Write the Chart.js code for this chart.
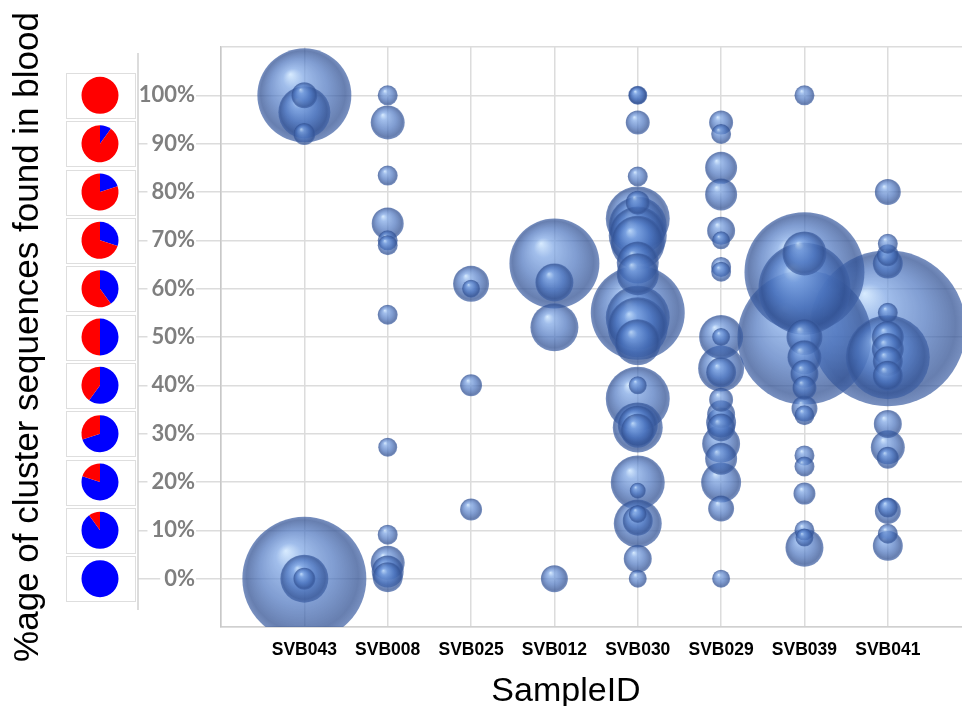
<!DOCTYPE html>
<html>
<head>
<meta charset="utf-8">
<script src="https://cdn.jsdelivr.net/npm/chart.js@4/dist/chart.umd.min.js"></script>
<style>
  html,body{margin:0;padding:0;background:#fff;overflow:hidden}
  #wrap{width:962px;height:706px;position:relative}
</style>
</head>
<body>
<div id="wrap"><canvas id="chart" width="962" height="706"></canvas></div>
<script>
/* ── Data ── */
const samples=['SVB043','SVB008','SVB025','SVB012','SVB030','SVB029','SVB039','SVB041'];

// % of cluster sequences found in blood, one list per sample
const bloodPct=[
  [100,96.5,100,92, 0,0,0],
  [100,94.4,83.4,73.5,70,69,54.6,27.2,9.1,3.3,1.5,0.3],
  [61,60,40,14.3],
  [65.2,61.3,52,0],
  [100,100,94.4,83.2,77.8,74.5,73,71,69.5,65.4,63,55,54,52,48.9,40,37.2,31.7,31.3,30.6,19.9,18.2,13.4,12,11.4,4.1,0],
  [94.4,92,85,79.5,72,70,64.5,63.5,50,50,43.5,42.7,37,34,32.3,31.3,27.9,24.8,19.9,14.5,0],
  [100,63.4,60,67.3,49.9,50,45.8,42.4,39.5,35.2,33.8,25.5,23.2,17.6,10,8.5,6.4],
  [80,69.3,66.9,65.2,51.8,45.8,55,50,47.5,45,42,32,27.2,25,14.7,14,9.3,6.8]
];
// bubble size (cluster size), same order as bloodPct
const clusterSize=[
  [47,26,13,11, 62,24,11],
  [10,17,10,16,10,10,10,9.5,10,17,16,15],
  [18,9,11,11],
  [45,19,24,13.5],
  [9.5,9,12,10,12,32,29,29,27,21,21,47,32,30,23,9,32,20,25,17,27,8,9,15,24,14,9],
  [12,10,16,16,14,9,10,10,22,9,23,15,12,14,15,14,19,16,20,13,9],
  [10,60,46,22,67,18,17,14,12,13,10,10,10,11,10,9,19],
  [13,10,11,15,78,42,10,16,16,15,15,14,17,11,10,13,10,15]
];

// pie key: share of red (blood) for each level
const pieRedPct=[100,90,80,70,60,50,40,30,20,10,0];
const yTicks=[-10,0,10,20,30,40,50,60,70,80,90,100,110];

const yTitle='%age of cluster sequences found in blood';
const xTitle='SampleID';

/* ── Build points ── */
const points=[];
samples.forEach((s,i)=>{
  bloodPct[i].forEach((p,j)=>points.push({x:i+1,y:p,r:clusterSize[i][j]}));
});
points.sort((a,b)=>b.r-a.r);

/* ── 3D-ish bubble fill ── */
function bubbleFill(ctx){
  const chart=ctx.chart,raw=ctx.raw;
  const flat='rgba(68,114,196,.7)';
  if(!raw||!chart.scales||!chart.scales.x||!chart.scales.y)return flat;
  const x=chart.scales.x.getPixelForValue(raw.x);
  const y=chart.scales.y.getPixelForValue(raw.y);
  const r=raw.r;
  if(!isFinite(x)||!isFinite(y)||!isFinite(r))return flat;
  const g=chart.ctx.createRadialGradient(x-0.3*r,y-0.45*r,0,x,y,r);
  g.addColorStop(0,'rgba(205,230,255,.78)');
  g.addColorStop(0.22,'rgba(125,165,228,.72)');
  g.addColorStop(0.6,'rgba(74,115,190,.7)');
  g.addColorStop(0.9,'rgba(50,82,148,.74)');
  g.addColorStop(1,'rgba(62,96,165,.7)');
  return g;
}

/* ── Pie key, frame line, x title ── */
const extras={
  id:'extras',
  afterDraw(chart){
    const c=chart.ctx,ys=chart.scales.y;
    c.save();
    pieRedPct.forEach(p=>{
      const cy=ys.getPixelForValue(p);
      c.strokeStyle='#dedede';c.lineWidth=1;
      c.strokeRect(66.5,Math.round(cy-22.5)+0.5,69,45);
      const cx=100,r=18.5,start=-Math.PI/2,blueEnd=start+2*Math.PI*(100-p)/100;
      if(p<100){
        c.beginPath();c.moveTo(cx,cy);c.arc(cx,cy,r,start,blueEnd);c.closePath();
        c.fillStyle='#0000ff';c.fill();
      }
      if(p>0){
        c.beginPath();c.moveTo(cx,cy);c.arc(cx,cy,r,blueEnd,start+2*Math.PI);c.closePath();
        c.fillStyle='#ff0000';c.fill();
      }
    });
    c.strokeStyle='#d0d0d0';c.lineWidth=1.5;
    c.beginPath();c.moveTo(138,53);c.lineTo(138,610);c.stroke();
    c.font='34px "Liberation Sans", Arial, sans-serif';
    c.fillStyle='#000';c.textAlign='center';c.textBaseline='alphabetic';
    c.fillText(xTitle,566,701);
    c.restore();
  }
};

const inRange=v=>v>=0&&v<=100;

new Chart(document.getElementById('chart'),{
  type:'bubble',
  data:{datasets:[{
    data:points,
    backgroundColor:bubbleFill,
    borderWidth:0,
    clip:0
  }]},
  options:{
    responsive:false,
    animation:false,
    events:[],
    layout:{autoPadding:false,padding:{top:47,left:0,right:0,bottom:0}},
    plugins:{legend:{display:false},tooltip:{enabled:false}},
    scales:{
      x:{
        type:'linear',min:0,max:8.89,
        afterBuildTicks:s=>{s.ticks=samples.map((_,i)=>({value:i})).concat([{value:samples.length}]);},
        afterFit:s=>{s.height=79;s.paddingLeft=0;s.paddingRight=0;},
        grid:{color:'#dcdcdc',lineWidth:1.5,drawTicks:false},
        border:{display:true,color:'#d0d0d0',width:1.5},
        ticks:{
          autoSkip:false,maxRotation:0,padding:13,color:'#000',
          font:{family:'"Liberation Sans", Arial, sans-serif',weight:'bold',size:17.5},
          callback:v=>samples[v-1]||''
        }
      },
      y:{
        type:'linear',min:-10,max:110,
        afterBuildTicks:s=>{s.ticks=yTicks.map(v=>({value:v}));},
        afterFit:s=>{s.width=221;s.paddingTop=0;s.paddingBottom=0;},
        grid:{
          color:'#dcdcdc',lineWidth:1.5,tickLength:83,
          tickColor:ctx=>(ctx.tick&&!inRange(ctx.tick.value))?'rgba(0,0,0,0)':'#dcdcdc'
        },
        border:{display:true,color:'#c8c8c8',width:1.5},
        ticks:{
          autoSkip:false,padding:-57,color:'#7f7f7f',
          font:{family:'Lato, "Liberation Sans", sans-serif',weight:'bold',size:22},
          showLabelBackdrop:true,
          backdropColor:ctx=>(ctx.tick&&!inRange(ctx.tick.value))?'rgba(0,0,0,0)':'#ffffff',
          backdropPadding:{left:4,right:1,top:0,bottom:0},
          callback:v=>inRange(v)?v+'%':''
        },
        title:{
          display:true,text:yTitle,color:'#000',
          font:{family:'"Liberation Sans", Arial, sans-serif',size:35},
          padding:{top:7,bottom:0}
        }
      }
    }
  },
  plugins:[extras]
});
</script>
</body>
</html>
